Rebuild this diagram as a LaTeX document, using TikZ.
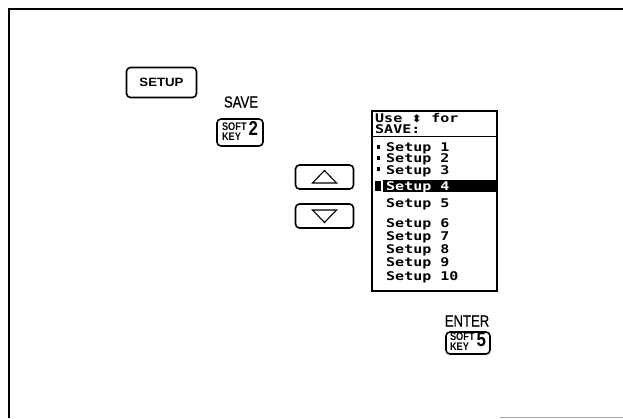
\documentclass[tikz,border=0pt]{standalone}
\usepackage{graphicx}
\usepackage{fontspec}
\setmainfont{Liberation Sans}
\newfontfamily\keyfont[FakeStretch=0.82,FakeBold=0.6]{Liberation Sans}
\newfontfamily\boldkeyfont[FakeStretch=0.84]{Liberation Sans Bold}
\newfontfamily\widekeyfont[FakeStretch=1.1]{Liberation Sans Bold}
\newfontfamily\lcdfont{DejaVu Sans Mono Bold}
\newfontfamily\symfont{DejaVu Sans}
\newcommand\skeytext[1]{{\boldkeyfont\fontsize{11}{9}\selectfont\begin{tabular}[c]{@{}l@{}}SOFT\\KEY\end{tabular}}\hspace{2pt}{\boldkeyfont\fontsize{20}{20}\selectfont #1}}
\newcommand\lcdt[1]{\scalebox{1}[0.8]{#1}}
\begin{document}
\begin{tikzpicture}[x=1pt,y=-1pt,
  key/.style={draw, line width=1.6pt, rounded corners=4pt, inner sep=0pt},
  lbl/.style={font=\keyfont\fontsize{16}{16}\selectfont, inner sep=0pt},
  lcd/.style={font=\lcdfont\fontsize{15}{15}\selectfont, anchor=base west, inner sep=0pt},
  tri/.style={line width=1.1pt}]
\useasboundingbox (0,0) rectangle (623,418);
% frame
\draw[line width=2pt] (8.5,418) coordinate (fbl) -- (8.5,9) coordinate (ftl) -- (623,9) coordinate (ftr);
\draw[line width=0.8pt, black!35] (500,417) coordinate (fb1) -- (623,417) coordinate (fb2);
% keys
\node[key, minimum width=70pt, minimum height=30pt] (setup) at (161.5,82.5) {\widekeyfont\fontsize{12}{12}\selectfont SETUP};
\node[lbl] (save) at (241,102) {SAVE};
\node[key, minimum width=46pt, minimum height=27pt] (sk2) at (240,132.5) {\skeytext{2}};
\node[key, minimum width=58pt, minimum height=24pt] (up) at (324.5,177) {};
\node[key, minimum width=58pt, minimum height=24pt] (down) at (324.5,216) {};
\draw[tri] ([shift={(-12,6)}]up.center) -- ([shift={(12,6)}]up.center) -- ([shift={(0,-6.5)}]up.center) -- cycle;
\draw[tri] ([shift={(-12,-6)}]down.center) -- ([shift={(12,-6)}]down.center) -- ([shift={(0,6.5)}]down.center) -- cycle;
% screen
\node[draw, line width=1.4pt, minimum width=125pt, minimum height=180pt, inner sep=0pt] (screen) at (434.5,201) {};
\draw[line width=1.2pt] (screen.west |- 0,136.5) -- (screen.east |- 0,136.5);
\fill (383,180) rectangle (screen.east |- 0,192);
\fill (375,181) rectangle (381,191);
\foreach \y in {147,158,169} \fill (376.5,\y-1.7) rectangle (379.8,\y+1.7);
\node[lcd] (l1) at (375,122) {\lcdt{Use {\symfont\fontsize{13}{13}\selectfont ⬍} for}};
\node[lcd] (l2) at (375,133) {\lcdt{SAVE:}};
\node[lcd] (s1) at (386,151) {\lcdt{Setup 1}};
\node[lcd] (s2) at (386,162.5) {\lcdt{Setup 2}};
\node[lcd] (s3) at (386,174) {\lcdt{Setup 3}};
\node[lcd, text=white] (s4) at (386,190) {\lcdt{Setup 4}};
\node[lcd] (s5) at (386,207) {\lcdt{Setup 5}};
\node[lcd] (s6) at (386,227) {\lcdt{Setup 6}};
\node[lcd] (s7) at (386,240) {\lcdt{Setup 7}};
\node[lcd] (s8) at (386,253) {\lcdt{Setup 8}};
\node[lcd] (s9) at (386,266) {\lcdt{Setup 9}};
\node[lcd] (s10) at (386,280) {\lcdt{Setup 10}};
% enter
\node[lbl] (enter) at (467,321) {ENTER};
\node[key, minimum width=44pt, minimum height=22pt] (sk5) at (468,343) {\skeytext{5}};
\end{tikzpicture}
\end{document}
